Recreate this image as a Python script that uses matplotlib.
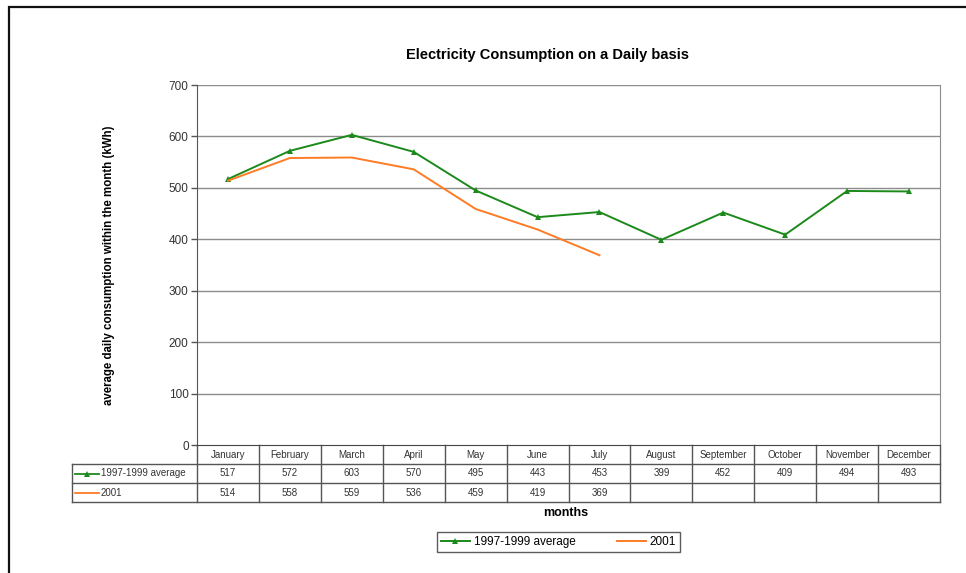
import matplotlib
matplotlib.use("Agg")
import matplotlib.pyplot as plt
from matplotlib.lines import Line2D
from matplotlib.patches import Rectangle

plt.rcParams['font.family'] = ['Liberation Sans', 'DejaVu Sans']

months = ["January", "February", "March", "April", "May", "June", "July",
          "August", "September", "October", "November", "December"]
avg_label = "1997-1999 average"
avg_values = [517, 572, 603, 570, 495, 443, 453, 399, 452, 409, 494, 493]
y2001_label = "2001"
y2001_values = [514, 558, 559, 536, 459, 419, 369]
y_ticks = [0, 100, 200, 300, 400, 500, 600, 700]

GREEN = "#1b8a1b"
ORANGE = "#ff7b24"
GRID = "#8c8c8c"
TEXT = "#333333"

W, H = 966, 573
fig = plt.figure(figsize=(W / 100, H / 100), dpi=100)

# outer chart frame
fig.add_artist(Rectangle((9 / W, -0.1), 1.2, (H - 7) / H + 0.1,
                         transform=fig.transFigure, fill=False,
                         edgecolor="#111111", linewidth=1.6))

px_l, px_r, px_t, px_b = 197, 940, 85, 445
ax = fig.add_axes([px_l / W, (H - px_b) / H, (px_r - px_l) / W, (px_b - px_t) / H])

n = len(months)
x = list(range(n))
ax.plot(x, avg_values, color=GREEN, lw=1.4, marker="^", ms=4.5,
        markeredgewidth=0, zorder=3, label=avg_label)
ax.plot(x[:len(y2001_values)], y2001_values, color=ORANGE, lw=1.4,
        zorder=3, label=y2001_label)

ax.set_xlim(-0.5, n - 0.5)
ax.set_ylim(0, 700)
ax.set_yticks(y_ticks)
ax.set_yticklabels([str(t) for t in y_ticks], fontsize=8.5, color=TEXT)
ax.tick_params(axis="y", length=4, width=1, color="#555555", pad=2)
ax.set_xticks([])
for y in y_ticks[1:]:
    ax.axhline(y, color=GRID, lw=1, zorder=1)
ax.spines["top"].set_visible(False)
ax.spines["left"].set_color("#555555")
ax.spines["right"].set_color(GRID)
ax.spines["bottom"].set_color("#444444")

ax.set_ylabel("average daily consumption within the month (kWh)",
              fontsize=8.3, fontweight="bold")
ax.yaxis.set_label_coords((115 - px_l) / (px_r - px_l), 0.5)

fig.text(548 / W, (H - 55) / H, "Electricity Consumption on a Daily basis",
         ha="center", va="center", fontsize=10.5, fontweight="bold")

# data table below the plot area
trans = ax.get_xaxis_transform()
plot_h = px_b - px_t
col_w = (px_r - px_l) / n
row_h = 19
rows_y = [0, -row_h / plot_h, -2 * row_h / plot_h, -3 * row_h / plot_h]
left_edge = -0.5 - (px_l - 72) / col_w
tcol = "#555555"
tfs = 7

def hline(x0, x1, y):
    ax.add_line(Line2D([x0, x1], [y, y], transform=trans, color=tcol,
                       lw=1, clip_on=False))

def vline(xv, y0, y1):
    ax.add_line(Line2D([xv, xv], [y0, y1], transform=trans, color=tcol,
                       lw=1, clip_on=False))

hline(left_edge, n - 0.5, rows_y[1])
hline(left_edge, n - 0.5, rows_y[2])
hline(left_edge, n - 0.5, rows_y[3])
for i in range(n + 1):
    vline(i - 0.5, rows_y[0], rows_y[3])
vline(left_edge, rows_y[1], rows_y[3])

def mid(a, b):
    return (a + b) / 2

for i, m in enumerate(months):
    ax.text(i, mid(rows_y[0], rows_y[1]), m, transform=trans, ha="center",
            va="center", fontsize=tfs, color=TEXT, clip_on=False)
for i, v in enumerate(avg_values):
    ax.text(i, mid(rows_y[1], rows_y[2]), str(v), transform=trans,
            ha="center", va="center", fontsize=tfs, color=TEXT, clip_on=False)
for i, v in enumerate(y2001_values):
    ax.text(i, mid(rows_y[2], rows_y[3]), str(v), transform=trans,
            ha="center", va="center", fontsize=tfs, color=TEXT, clip_on=False)

# legend keys inside the table's first column
key_x0 = left_edge + 3 / col_w
key_x1 = left_edge + 27 / col_w
text_x = left_edge + 29 / col_w
ym1 = mid(rows_y[1], rows_y[2])
ym2 = mid(rows_y[2], rows_y[3])
ax.add_line(Line2D([key_x0, key_x1], [ym1, ym1], transform=trans, color=GREEN,
                   lw=1.3, clip_on=False))
ax.add_line(Line2D([mid(key_x0, key_x1)], [ym1], transform=trans, color=GREEN,
                   marker="^", ms=4, markeredgewidth=0, clip_on=False))
ax.add_line(Line2D([key_x0, key_x1], [ym2, ym2], transform=trans, color=ORANGE,
                   lw=1.3, clip_on=False))
ax.text(text_x, ym1, avg_label, transform=trans, ha="left", va="center",
        fontsize=tfs, color=TEXT, clip_on=False)
ax.text(text_x, ym2, y2001_label, transform=trans, ha="left", va="center",
        fontsize=tfs, color=TEXT, clip_on=False)

fig.text(566 / W, (H - 513) / H, "months", ha="center", va="center",
         fontsize=9, fontweight="bold")

handles, labels = ax.get_legend_handles_labels()
leg = fig.legend(handles, labels, loc="center", ncol=2,
                 bbox_to_anchor=((437 + 680) / 2 / W, (H - 542) / H),
                 fontsize=8.5, frameon=True, fancybox=False, handlelength=2.5,
                 columnspacing=3.5, borderpad=0.35, handletextpad=0.3)
leg.get_frame().set_edgecolor("#333333")
leg.get_frame().set_linewidth(1)

fig.savefig("out.png", dpi=100)
